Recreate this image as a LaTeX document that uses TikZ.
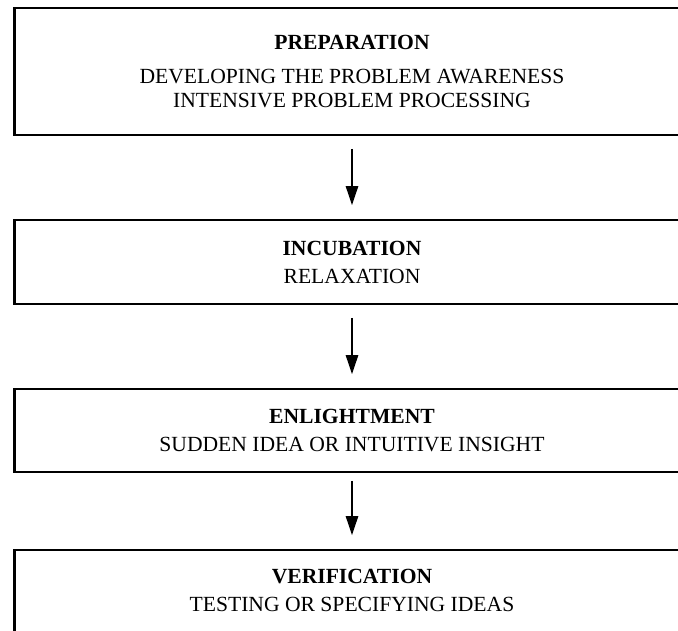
\documentclass[tikz,border=0pt]{standalone}
\usepackage{fontspec}
\setmainfont{Liberation Serif}
\usetikzlibrary{arrows.meta}
\begin{document}
\begin{tikzpicture}[x=1pt,y=-1pt,
  stage/.style={draw=black, line width=2.7pt, minimum width=675pt, align=center,
    inner sep=0pt, font=\fontsize{21.6}{24}\selectfont},
  flow/.style={line width=1.3pt, -{Triangle[length=19pt,width=12.5pt]}}]
\useasboundingbox (0,0) rectangle (678,630);
\clip (0,0) rectangle (678,630);
\node[stage, minimum height=127pt] (prep) at (352,71.5)
  {\textbf{PREPARATION}\\[10pt]DEVELOPING THE PROBLEM AWARENESS\\INTENSIVE PROBLEM PROCESSING};
\node[stage, minimum height=84pt] (incu) at (352,262)
  {\textbf{INCUBATION}\\[4pt]RELAXATION};
\node[stage, minimum height=83pt] (enli) at (352,430.5)
  {\textbf{ENLIGHTMENT}\\[4pt]SUDDEN IDEA OR INTUITIVE INSIGHT};
\node[stage, minimum height=92pt, text depth=12pt] (veri) at (352,596)
  {\textbf{VERIFICATION}\\[4pt]TESTING OR SPECIFYING IDEAS};
\draw[flow, shorten <=12.6pt, shorten >=13.6pt] (prep) -- (incu);
\draw[flow, shorten <=12.6pt, shorten >=13.6pt] (incu) -- (enli);
\draw[flow, shorten <=7.6pt, shorten >=13.6pt] (enli) -- (veri);
\end{tikzpicture}
\end{document}
